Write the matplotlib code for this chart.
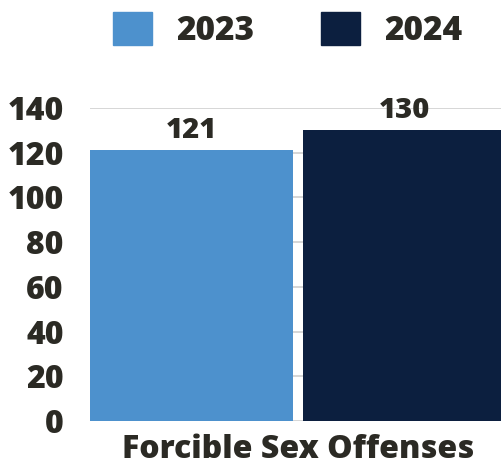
import matplotlib.pyplot as plt
from matplotlib.patches import Patch

# Data
years = ['2023', '2024']
values = [121, 130]
colors = ['#4d91cd', '#0c1f3f']
category = 'Forcible Sex Offenses'
yticks = [0, 20, 40, 60, 80, 100, 120, 140]

plt.rcParams['font.family'] = ['Open Sans', 'DejaVu Sans']
plt.rcParams['font.weight'] = 800
text_color = '#2b2a24'

fig = plt.figure(figsize=(5.02, 4.70), dpi=100)
ax = fig.add_axes([90 / 502, 49 / 470, 412 / 502, 313 / 470])

gap = 0.05
centers = [-0.5 - gap / 2, 0.5 + gap / 2]
bars = ax.bar(centers, values, width=1.0, color=colors, zorder=3)
for b, v in zip(bars, values):
    ax.annotate(str(v), (b.get_x() + b.get_width() / 2, v), xytext=(0, 4),
                textcoords='offset points', ha='center', va='bottom',
                fontsize=21, fontweight=800, color=text_color)

ax.set_xlim(-1.025, 1.005)
ax.set_ylim(0, 140)
ax.set_yticks(yticks)
ax.set_xticks([0])
ax.set_xticklabels([category])
ax.tick_params(axis='both', length=0, labelcolor=text_color)
ax.tick_params(axis='y', pad=19, labelsize=23)
ax.tick_params(axis='x', pad=9, labelsize=23)
for lab in ax.get_yticklabels() + ax.get_xticklabels():
    lab.set_fontweight(800)
ax.grid(axis='y', color='#d0d0d0', linewidth=1.2, zorder=0)
for s in ax.spines.values():
    s.set_visible(False)

handles = [Patch(color=c, label=y) for c, y in zip(colors, years)]
fig.legend(handles=handles, loc='center', bbox_to_anchor=(288 / 502, 1 - 30 / 470),
           ncol=2, frameon=False, handlelength=1.15, handleheight=1.15,
           handletextpad=0.75, columnspacing=2.0, labelcolor=text_color,
           prop={'weight': 800, 'size': 24})

fig.savefig('out.png', dpi=100)
